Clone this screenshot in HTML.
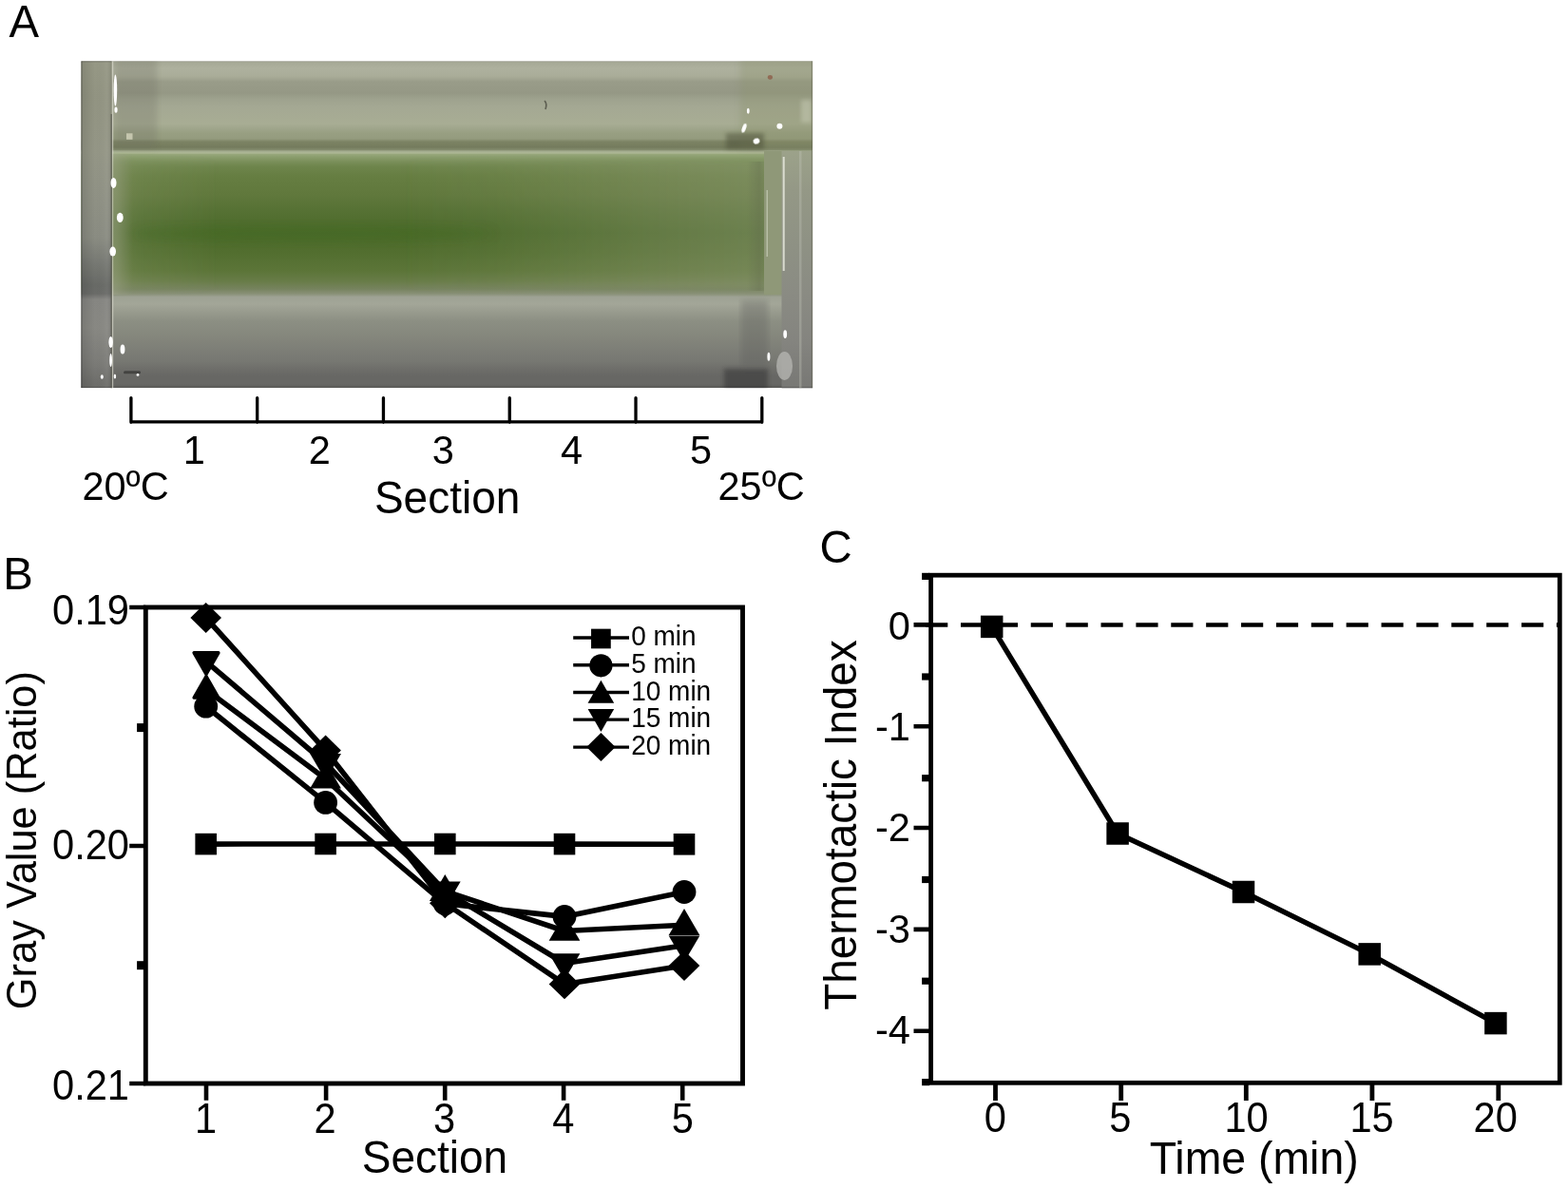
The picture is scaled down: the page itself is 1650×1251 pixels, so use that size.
<!DOCTYPE html>
<html lang="en">
<head>
<meta charset="utf-8">
<title>Figure: thermotaxis assay</title>
<style>
html,body{margin:0;padding:0;background:#fff;}
body{width:1650px;height:1251px;overflow:hidden;}
svg{display:block;}
text{font-family:"Liberation Sans", sans-serif;fill:#000;}
</style>
</head>
<body>
<svg width="1650" height="1251" viewBox="0 0 1650 1251">
<rect width="1650" height="1251" fill="#fff"/>
<defs>
<linearGradient id="pv" x1="0" y1="0" x2="0" y2="1"><stop offset="0.0000" stop-color="rgb(116,118,100)"/><stop offset="0.0038" stop-color="rgb(166,169,150)"/><stop offset="0.0224" stop-color="rgb(174,177,158)"/><stop offset="0.0457" stop-color="rgb(170,173,153)"/><stop offset="0.0631" stop-color="rgb(153,156,137)"/><stop offset="0.0980" stop-color="rgb(149,152,133)"/><stop offset="0.1154" stop-color="rgb(158,162,142)"/><stop offset="0.1387" stop-color="rgb(164,168,147)"/><stop offset="0.1910" stop-color="rgb(168,173,148)"/><stop offset="0.2056" stop-color="rgb(160,166,140)"/><stop offset="0.2201" stop-color="rgb(152,159,130)"/><stop offset="0.2376" stop-color="rgb(148,155,126)"/><stop offset="0.2463" stop-color="rgb(124,131,100)"/><stop offset="0.2637" stop-color="rgb(116,123,93)"/><stop offset="0.2710" stop-color="rgb(130,138,108)"/><stop offset="0.2754" stop-color="rgb(162,171,142)"/><stop offset="0.2812" stop-color="rgb(174,184,150)"/><stop offset="0.2855" stop-color="rgb(150,166,122)"/><stop offset="0.2957" stop-color="rgb(136,155,106)"/><stop offset="0.3074" stop-color="rgb(122,143,90)"/><stop offset="0.3219" stop-color="rgb(110,133,76)"/><stop offset="0.3510" stop-color="rgb(102,126,66)"/><stop offset="0.4091" stop-color="rgb(96,120,60)"/><stop offset="0.4673" stop-color="rgb(84,112,50)"/><stop offset="0.5254" stop-color="rgb(76,106,43)"/><stop offset="0.5836" stop-color="rgb(82,110,47)"/><stop offset="0.6418" stop-color="rgb(92,117,56)"/><stop offset="0.6737" stop-color="rgb(104,124,72)"/><stop offset="0.6970" stop-color="rgb(118,131,94)"/><stop offset="0.7115" stop-color="rgb(136,144,118)"/><stop offset="0.7217" stop-color="rgb(158,162,148)"/><stop offset="0.7435" stop-color="rgb(163,166,152)"/><stop offset="0.7668" stop-color="rgb(152,155,142)"/><stop offset="0.7959" stop-color="rgb(140,143,131)"/><stop offset="0.8453" stop-color="rgb(132,134,124)"/><stop offset="0.8889" stop-color="rgb(124,125,118)"/><stop offset="0.9180" stop-color="rgb(119,120,114)"/><stop offset="0.9413" stop-color="rgb(110,110,106)"/><stop offset="0.9645" stop-color="rgb(103,103,100)"/><stop offset="0.9878" stop-color="rgb(103,103,100)"/><stop offset="0.9959" stop-color="rgb(96,96,93)"/><stop offset="1.0000" stop-color="rgb(72,72,70)"/></linearGradient>
<linearGradient id="plc" x1="0" y1="0" x2="0" y2="1"><stop offset="0.0000" stop-color="rgb(104,105,92)"/><stop offset="0.0049" stop-color="rgb(150,152,133)"/><stop offset="0.1038" stop-color="rgb(146,148,130)"/><stop offset="0.2783" stop-color="rgb(148,150,134)"/><stop offset="0.3946" stop-color="rgb(144,146,133)"/><stop offset="0.5400" stop-color="rgb(138,140,130)"/><stop offset="0.6127" stop-color="rgb(120,122,116)"/><stop offset="0.6854" stop-color="rgb(104,106,102)"/><stop offset="0.7115" stop-color="rgb(106,107,104)"/><stop offset="0.7290" stop-color="rgb(134,134,130)"/><stop offset="0.8162" stop-color="rgb(136,136,131)"/><stop offset="0.9180" stop-color="rgb(124,124,120)"/><stop offset="0.9951" stop-color="rgb(108,108,105)"/><stop offset="1.0000" stop-color="rgb(72,72,70)"/></linearGradient>
<linearGradient id="prc" x1="0" y1="0" x2="0" y2="1"><stop offset="0.0000" stop-color="rgb(156,162,138)"/><stop offset="0.1640" stop-color="rgb(148,152,134)"/><stop offset="0.4040" stop-color="rgb(142,145,132)"/><stop offset="0.6040" stop-color="rgb(138,139,131)"/><stop offset="0.8040" stop-color="rgb(132,132,127)"/><stop offset="0.9900" stop-color="rgb(120,120,117)"/><stop offset="0.9968" stop-color="rgb(80,80,78)"/></linearGradient>
<clipPath id="pc"><rect x="85.3" y="64.3" width="769.9" height="343.9"/></clipPath>
<filter id="b1" x="-50%" y="-50%" width="200%" height="200%"><feGaussianBlur stdDeviation="0.7"/></filter>
<filter id="b2" x="-20%" y="-30%" width="140%" height="160%"><feGaussianBlur stdDeviation="2"/></filter>
<filter id="b3" x="-10%" y="-10%" width="120%" height="120%"><feGaussianBlur stdDeviation="3"/></filter>
<filter id="b6" x="-30%" y="-30%" width="160%" height="160%"><feGaussianBlur stdDeviation="6"/></filter>
<linearGradient id="pg" x1="0" y1="0" x2="1" y2="0"><stop offset="0.0000" stop-color="#9aa47e" stop-opacity="0.3"/><stop offset="0.0449" stop-color="#9aa47e" stop-opacity="0.14"/><stop offset="0.1609" stop-color="#969e7d" stop-opacity="0.0"/><stop offset="0.4362" stop-color="#969e7d" stop-opacity="0.0"/><stop offset="0.5812" stop-color="#969e7d" stop-opacity="0.08"/><stop offset="0.8130" stop-color="#969e7d" stop-opacity="0.3"/><stop offset="0.9870" stop-color="#969e7d" stop-opacity="0.44"/></linearGradient>
<linearGradient id="plh" x1="0" y1="0" x2="1" y2="0"><stop offset="0.0000" stop-color="#000" stop-opacity="0.5"/><stop offset="0.0594" stop-color="#000" stop-opacity="0.1"/><stop offset="0.4594" stop-color="#000" stop-opacity="0.0"/><stop offset="0.8344" stop-color="#fff" stop-opacity="0.04"/><stop offset="0.9906" stop-color="#000" stop-opacity="0.1"/></linearGradient>
<linearGradient id="pl2" x1="0" y1="0" x2="1" y2="0"><stop offset="0.0000" stop-color="#a4a890" stop-opacity="0.5"/><stop offset="0.4286" stop-color="#9a9e86" stop-opacity="0.3"/><stop offset="1.0000" stop-color="#90947e" stop-opacity="0.0"/></linearGradient>
<linearGradient id="pr2" x1="0" y1="0" x2="1" y2="0"><stop offset="0.0000" stop-color="#5c6448" stop-opacity="0.0"/><stop offset="0.7222" stop-color="#5c6448" stop-opacity="0.3"/><stop offset="1.0000" stop-color="#5c6448" stop-opacity="0.1"/></linearGradient>
</defs>
<g clip-path="url(#pc)">
<rect x="85.3" y="64.3" width="769.9" height="343.9" fill="url(#pv)"/>
<rect x="121" y="56" width="44" height="100" fill="#6e6e60" opacity="0.26" filter="url(#b3)"/>
<rect x="119" y="170" width="690" height="134" fill="url(#pg)" filter="url(#b3)"/>
<ellipse cx="330" cy="246" rx="190" ry="9" fill="#3e6a1c" opacity="0.3" filter="url(#b6)"/>
<rect x="786" y="170" width="18" height="136" fill="url(#pr2)"/>
<rect x="779" y="58" width="84" height="99" fill="#8a926c" opacity="0.3" filter="url(#b3)"/>
<rect x="764" y="140" width="40" height="17" fill="#4c5038" opacity="0.5" filter="url(#b2)"/>
<rect x="762" y="388" width="46" height="24" fill="#363634" opacity="0.55" filter="url(#b2)"/>
<rect x="780" y="316" width="28" height="70" fill="#5a5a58" opacity="0.3" filter="url(#b3)"/>
<rect x="85.3" y="64.3" width="32.2" height="343.9" fill="url(#plc)"/>
<rect x="85.3" y="64.3" width="32.2" height="343.9" fill="url(#plh)"/>
<rect x="116.6" y="120" width="1.3" height="290" fill="#55554c" opacity="0.8"/>
<rect x="117.9" y="64.3" width="1.3" height="343.9" fill="#d8d8cc" opacity="0.7"/>
<rect x="119" y="162" width="21" height="148" fill="url(#pl2)"/>
<rect x="804" y="159" width="19" height="151" fill="#8f9878" filter="url(#b1)"/>
<rect x="806.5" y="200" width="1.5" height="70" fill="#d4d8c4" opacity="0.6"/>
<rect x="822.5" y="159" width="33" height="250" fill="url(#prc)"/>
<rect x="823.7" y="165" width="2" height="120" fill="#e6e8dc" opacity="0.85" filter="url(#b1)"/>
<rect x="841" y="159" width="2.5" height="250" fill="#c4c6ba" opacity="0.35"/>
<rect x="843" y="105" width="11" height="24" fill="#c8ccb6" opacity="0.5" filter="url(#b2)"/>
<rect x="853.8" y="64.3" width="1.6" height="343.9" fill="#60604e" opacity="0.45"/>
<ellipse cx="825.5" cy="385" rx="8.5" ry="15" fill="#b4b4b0" opacity="0.8" filter="url(#b1)"/>
<ellipse cx="810.4" cy="81.3" rx="2.6" ry="2.4" fill="#8e5e4a" opacity="0.8" filter="url(#b1)"/>
<rect x="130" y="390.2" width="18" height="3" rx="1.5" fill="#3a3a38" opacity="0.8" filter="url(#b1)"/>
<rect x="133" y="140.3" width="6.5" height="6.5" fill="#d4d4bc" opacity="0.8" filter="url(#b1)"/>
<path d="M573 106q3 3 1 9" stroke="#4a4a40" stroke-width="1.6" fill="none" opacity="0.8"/>
<ellipse cx="121.4" cy="95" rx="1.8" ry="16.5" fill="#fff" filter="url(#b1)"/>
<ellipse cx="122" cy="115.6" rx="1.6" ry="3.2" fill="#fff" filter="url(#b1)"/>
<ellipse cx="119.5" cy="192.4" rx="3" ry="5.5" fill="#fff" filter="url(#b1)"/>
<ellipse cx="126.3" cy="228.9" rx="3.4" ry="5.2" fill="#fff" filter="url(#b1)"/>
<ellipse cx="118.7" cy="264.6" rx="3.3" ry="5" fill="#fff" filter="url(#b1)"/>
<ellipse cx="116.6" cy="360" rx="2.2" ry="6" fill="#fff" filter="url(#b1)"/>
<ellipse cx="116.6" cy="379" rx="1.4" ry="7" fill="#fff" filter="url(#b1)"/>
<ellipse cx="129" cy="367.6" rx="2.4" ry="5" fill="#fff" filter="url(#b1)"/>
<ellipse cx="107.3" cy="396.5" rx="1.5" ry="2.2" fill="#fff" filter="url(#b1)"/>
<ellipse cx="120.9" cy="396" rx="1.2" ry="2.5" fill="#fff" filter="url(#b1)"/>
<ellipse cx="145" cy="394.4" rx="1.4" ry="1.4" fill="#fff" filter="url(#b1)"/>
<ellipse cx="787.3" cy="116.8" rx="1.4" ry="3" fill="#fff" filter="url(#b1)"/>
<ellipse cx="783" cy="134.8" rx="2" ry="5" fill="#fff" transform="rotate(20 783 134.8)" filter="url(#b1)"/>
<ellipse cx="820.4" cy="132.7" rx="3" ry="3" fill="#fff" filter="url(#b1)"/>
<ellipse cx="796" cy="148.5" rx="3.4" ry="2.9" fill="#fff" transform="rotate(-20 796 148.5)" filter="url(#b1)"/>
<ellipse cx="826.2" cy="351.6" rx="1.9" ry="4.4" fill="#fff" filter="url(#b1)"/>
<ellipse cx="808.9" cy="375.3" rx="1.5" ry="4.5" fill="#fff" filter="url(#b1)"/>
</g>
<text transform="translate(9.6 38.6) scale(1 1.03)" font-size="47.3" text-anchor="start">A</text>
<path d="M137.9 443.8H801.8M137.9 418.6V444.3M270.68 418.6V444.3M403.46 418.6V444.3M536.24 418.6V444.3M669.02 418.6V444.3M801.8 418.6V444.3" fill="none" stroke="#000" stroke-width="3.3" stroke-linecap="round" stroke-linejoin="round"/>
<text transform="translate(204.2 488) scale(1 1.03)" font-size="41.5" text-anchor="middle">1</text>
<text transform="translate(336.4 488) scale(1 1.03)" font-size="41.5" text-anchor="middle">2</text>
<text transform="translate(466.4 488) scale(1 1.03)" font-size="41.5" text-anchor="middle">3</text>
<text transform="translate(601.5 488) scale(1 1.03)" font-size="41.5" text-anchor="middle">4</text>
<text transform="translate(737.5 488) scale(1 1.03)" font-size="41.5" text-anchor="middle">5</text>
<text transform="translate(86.4 525.6) scale(1 1.04)" font-size="41.5" text-anchor="start">20ºC</text>
<text transform="translate(755.5 525.6) scale(1 1.04)" font-size="41.5" text-anchor="start">25ºC</text>
<text transform="translate(470.6 540.3) scale(1 1.04)" font-size="46" text-anchor="middle">Section</text>
<rect x="153.3" y="639" width="628.2" height="501" fill="none" stroke="#000" stroke-width="4.9"/>
<path d="M136.2 639H153.3M136.2 890H153.3M136.2 1140H153.3" stroke="#000" stroke-width="4.7" fill="none"/>
<rect x="144.1" y="761.1" width="8" height="9" fill="#000"/>
<rect x="144.1" y="1011.2" width="8" height="9" fill="#000"/>
<path d="M217 1140V1157.8M343.1 1140V1157.8M468.2 1140V1157.8M593.1 1140V1157.8M718.2 1140V1157.8" stroke="#000" stroke-width="4.6" fill="none"/>
<text transform="translate(136 656.5) scale(1 1.05)" font-size="41.6" text-anchor="end">0.19</text>
<text transform="translate(136 904.2) scale(1 1.05)" font-size="41.6" text-anchor="end">0.20</text>
<text transform="translate(136 1156.5) scale(1 1.05)" font-size="41.6" text-anchor="end">0.21</text>
<text transform="translate(216.6 1192.4) scale(1 1.05)" font-size="41.6" text-anchor="middle">1</text>
<text transform="translate(342.1 1192.4) scale(1 1.05)" font-size="41.6" text-anchor="middle">2</text>
<text transform="translate(467.5 1192.4) scale(1 1.05)" font-size="41.6" text-anchor="middle">3</text>
<text transform="translate(592.8 1192.4) scale(1 1.05)" font-size="41.6" text-anchor="middle">4</text>
<text transform="translate(718.4 1192.4) scale(1 1.05)" font-size="41.6" text-anchor="middle">5</text>
<text transform="translate(457.4 1234.2) scale(1 1.04)" font-size="46" text-anchor="middle">Section</text>
<text transform="translate(37.6 884.1) rotate(-90) scale(1 1.04)" font-size="43.4" text-anchor="middle">Gray Value (Ratio)</text>
<text transform="translate(3.2 619.8) scale(1 1.03)" font-size="47.3" text-anchor="start">B</text>
<g fill="#000" stroke="none">
<polyline points="216.7,888.1 342.6,888 468.3,888 594,888.1 720,888.3" fill="none" stroke="#000" stroke-width="5.6" stroke-linejoin="round"/>
<polyline points="216.7,743.2 342.6,844.4 468.3,950.8 594,964.4 720,938.5" fill="none" stroke="#000" stroke-width="5.6" stroke-linejoin="round"/>
<polyline points="216.7,725.4 342.6,819.5 468.3,937.7 594,979.5 720,973.2" fill="none" stroke="#000" stroke-width="5.6" stroke-linejoin="round"/>
<polyline points="216.7,695.8 342.6,803 468.3,937.8 594,1013.5 720,994.7" fill="none" stroke="#000" stroke-width="5.6" stroke-linejoin="round"/>
<polyline points="216.7,650 342.6,789.5 468.3,950.3 594,1035.4 720,1016.1" fill="none" stroke="#000" stroke-width="5.6" stroke-linejoin="round"/>
<rect x="205.4" y="876.8" width="22.6" height="22.6"/>
<rect x="331.3" y="876.7" width="22.6" height="22.6"/>
<rect x="457" y="876.7" width="22.6" height="22.6"/>
<rect x="582.7" y="876.8" width="22.6" height="22.6"/>
<rect x="708.7" y="877" width="22.6" height="22.6"/>
<circle cx="216.7" cy="743.2" r="12.4"/>
<circle cx="342.6" cy="844.4" r="12.4"/>
<circle cx="468.3" cy="950.8" r="12.4"/>
<circle cx="594" cy="964.4" r="12.4"/>
<circle cx="720" cy="938.5" r="12.4"/>
<path d="M217 711.5L204.1 734.1L229.9 734.1Z" stroke="#000" stroke-width="3.4" stroke-linejoin="round"/>
<path d="M342.6 801.7L326.25 829.5L358.95 829.5Z"/>
<path d="M468.3 920.1L451.95 947.9L484.65 947.9Z"/>
<path d="M594 961.9L577.65 989.7L610.35 989.7Z"/>
<path d="M720 956.1L703.65 983.9L736.35 983.9Z"/>
<path d="M217 709.4L204.1 686.8L229.9 686.8Z" stroke="#000" stroke-width="3.4" stroke-linejoin="round"/>
<path d="M342.6 820.9L326.25 793.1L358.95 793.1Z"/>
<path d="M468.3 955.4L451.95 927.6L484.65 927.6Z"/>
<path d="M594 1031.1L577.65 1003.3L610.35 1003.3Z"/>
<path d="M720 1012.3L703.65 984.5L736.35 984.5Z"/>
<path d="M216.7 634.1L233 650L216.7 665.9L200.4 650Z"/>
<path d="M342.6 773.6L358.9 789.5L342.6 805.4L326.3 789.5Z"/>
<path d="M468.3 934.4L484.6 950.3L468.3 966.2L452 950.3Z"/>
<path d="M594 1019.5L610.3 1035.4L594 1051.3L577.7 1035.4Z"/>
<path d="M720 1000.2L736.3 1016.1L720 1032L703.7 1016.1Z"/>
</g>
<g fill="#000">
<path d="M603.2 671H662" stroke="#000" stroke-width="3.4" fill="none"/>
<rect x="622.05" y="661.65" width="20.7" height="20.7"/>
<text transform="translate(664.2 679) scale(1 1.05)" font-size="28" text-anchor="start">0 min</text>
<path d="M603.2 699.8H662" stroke="#000" stroke-width="3.4" fill="none"/>
<circle cx="632.4" cy="700.3" r="12.1"/>
<text transform="translate(664.2 707.8) scale(1 1.05)" font-size="28" text-anchor="start">5 min</text>
<path d="M603.2 728.5H662" stroke="#000" stroke-width="3.4" fill="none"/>
<path d="M632.4 715.7L618.6 739.7L646.2 739.7Z"/>
<text transform="translate(664.2 736.5) scale(1 1.05)" font-size="28" text-anchor="start">10 min</text>
<path d="M603.2 757.1H662" stroke="#000" stroke-width="3.4" fill="none"/>
<path d="M632.4 769.9L618.6 745.9L646.2 745.9Z"/>
<text transform="translate(664.2 765.1) scale(1 1.05)" font-size="28" text-anchor="start">15 min</text>
<path d="M603.2 786.1H662" stroke="#000" stroke-width="3.4" fill="none"/>
<path d="M632.4 771.1L647.6 786.1L632.4 801.1L617.2 786.1Z"/>
<text transform="translate(664.2 794.1) scale(1 1.05)" font-size="28" text-anchor="start">20 min</text>
</g>
<rect x="979.6" y="605.2" width="661.7" height="534.1" fill="none" stroke="#000" stroke-width="4.8"/>
<path d="M961.5 657.4H979.6M961.5 764.2H979.6M961.5 871H979.6M961.5 977.9H979.6M961.5 1084.7H979.6" stroke="#000" stroke-width="4.6" fill="none"/>
<rect x="970.1" y="602.8" width="8" height="7.2" fill="#000"/>
<rect x="970.1" y="708.4" width="8" height="7.2" fill="#000"/>
<rect x="970.1" y="815.1" width="8" height="7.2" fill="#000"/>
<rect x="970.1" y="921.9" width="8" height="7.2" fill="#000"/>
<rect x="970.1" y="1028.6" width="8" height="7.2" fill="#000"/>
<rect x="970.1" y="1135" width="8" height="7.2" fill="#000"/>
<path d="M1047.5 1139.3V1158M1179.7 1139.3V1158M1311.3 1139.3V1158M1443.9 1139.3V1158M1576.8 1139.3V1158" stroke="#000" stroke-width="4.8" fill="none"/>
<path d="M974.1 657.5H1641" stroke="#000" stroke-width="4.7" stroke-dasharray="23.2 13.68" fill="none"/>
<text transform="translate(958 672.6) scale(1 1.04)" font-size="41.6" text-anchor="end">0</text>
<text transform="translate(958 778.6) scale(1 1.04)" font-size="41.6" text-anchor="end">-1</text>
<text transform="translate(958 884.7) scale(1 1.04)" font-size="41.6" text-anchor="end">-2</text>
<text transform="translate(958 992.2) scale(1 1.04)" font-size="41.6" text-anchor="end">-3</text>
<text transform="translate(958 1098.2) scale(1 1.04)" font-size="41.6" text-anchor="end">-4</text>
<text transform="translate(1047.4 1190.8) scale(1 1.06)" font-size="41.6" text-anchor="middle">0</text>
<text transform="translate(1178.9 1190.8) scale(1 1.06)" font-size="41.6" text-anchor="middle">5</text>
<text transform="translate(1311.6 1190.8) scale(1 1.06)" font-size="41.6" text-anchor="middle">10</text>
<text transform="translate(1443.6 1190.8) scale(1 1.06)" font-size="41.6" text-anchor="middle">15</text>
<text transform="translate(1573.7 1190.8) scale(1 1.06)" font-size="41.6" text-anchor="middle">20</text>
<text transform="translate(1319.7 1234.5) scale(1 1.04)" font-size="46.4" text-anchor="middle">Time (min)</text>
<text transform="translate(900.9 868) rotate(-90) scale(1 1.04)" font-size="45.8" text-anchor="middle">Thermotactic Index</text>
<text transform="translate(862.4 592.2) scale(1 1.03)" font-size="47.3" text-anchor="start">C</text>
<polyline points="1043.7,659.4 1176.1,877 1308.5,938.5 1441.2,1003.9 1573.9,1076.6" fill="none" stroke="#000" stroke-width="5.5" stroke-linejoin="round"/>
<rect x="1031.95" y="647.65" width="23.5" height="23.5" fill="#000"/>
<rect x="1164.35" y="865.25" width="23.5" height="23.5" fill="#000"/>
<rect x="1296.75" y="926.75" width="23.5" height="23.5" fill="#000"/>
<rect x="1429.45" y="992.15" width="23.5" height="23.5" fill="#000"/>
<rect x="1562.15" y="1064.85" width="23.5" height="23.5" fill="#000"/>
</svg>
</body>
</html>
